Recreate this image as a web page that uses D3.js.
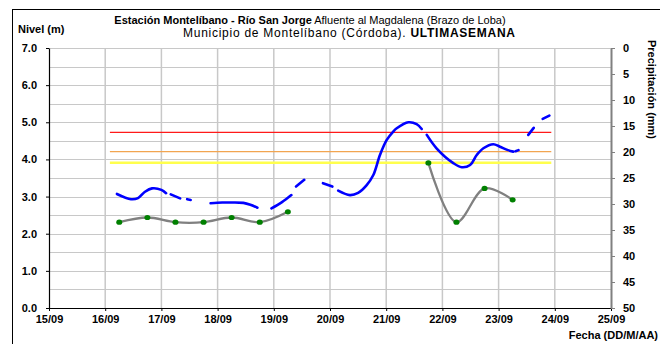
<!DOCTYPE html>
<html><head><meta charset="utf-8">
<script src="https://cdn.jsdelivr.net/npm/d3@7"></script>
<style>
html,body{margin:0;padding:0;background:#fff;}
svg text{font-family:"Liberation Sans",Arial,sans-serif;}
</style></head>
<body>
<svg id="c" width="660" height="344"></svg>
<script>
// ---- data ----
const dayTicks = ["15/09","16/09","17/09","18/09","19/09","20/09","21/09","22/09","23/09","24/09","25/09"];
const levelTicks = [0,1,2,3,4,5,6,7];
const precipTicks = [0,5,10,15,20,25,30,35,40,45,50];

const levelTimes = [
 "16/09 05:00","16/09 11:00","16/09 14:00","16/09 17:00","16/09 20:00","17/09 00:00","17/09 02:00", null,
 "17/09 04:00","17/09 08:00", null,
 "17/09 11:00","17/09 12:30", null,
 "17/09 21:00","18/09 02:00","18/09 06:00","18/09 11:00","18/09 14:00","18/09 17:00", null,
 "18/09 23:00","19/09 03:30","19/09 07:30", null,
 "19/09 09:30","19/09 13:00", null,
 "19/09 21:00","20/09 01:00", null,
 "20/09 03:30","20/09 08:30","20/09 12:00","20/09 15:40","20/09 18:30","20/09 21:20","21/09 00:10","21/09 03:00","21/09 04:30","21/09 09:30","21/09 13:00","21/09 15:10", null,
 "21/09 17:20","21/09 21:30","22/09 04:40","22/09 08:15","22/09 11:50","22/09 14:40","22/09 17:30","22/09 21:45","23/09 00:35","23/09 04:00","23/09 06:15", null,
 "23/09 07:15","23/09 08:30", null,
 "23/09 12:40","23/09 15:00", null,
 "23/09 18:50","23/09 21:40"
];
const levelValues = [
 3.07,2.93,2.96,3.13,3.22,3.18,3.09, null,
 3.06,2.95, null,
 2.93,2.91, null,
 2.82,2.84,2.84,2.83,2.78,2.70, null,
 2.68,2.85,3.04, null,
 3.27,3.45, null,
 3.36,3.27, null,
 3.16,3.04,3.10,3.31,3.58,4.12,4.52,4.75,4.84,5.00,4.95,4.82, null,
 4.66,4.30,3.90,3.79,3.85,4.12,4.30,4.41,4.34,4.25,4.21, null,
 4.22,4.25, null,
 4.66,4.85, null,
 5.09,5.18
];

const precipTimes = ["16/09 06:00","16/09 18:00","17/09 06:00","17/09 18:00","18/09 06:00","18/09 18:00","19/09 06:00", null,
 "21/09 18:00","22/09 06:00","22/09 18:00","23/09 06:00"];
const precipValues = [33.5,32.6,33.5,33.5,32.6,33.5,31.5, null, 22.1,33.5,27.0,29.2];

const thresholdNames = ["roja","naranja","amarilla"];
const thresholdValues = [4.73,4.21,3.91];
const thresholdColors = ["#ff1a1a","#f2a550","#ffff4d"];
const thresholdStart = "16/09 02:00";
const thresholdEnd = "23/09 22:30";

// ---- chart ----
const parse = d3.timeParse("%d/%m %H:%M");
const svg = d3.select("#c");
const L = 49, R = 611, T = 48, B = 308;

const x = d3.scaleTime().domain([parse("15/09 00:00"), parse("25/09 00:00")]).range([L, R]);
const y = d3.scaleLinear().domain([0,7]).range([B, T]);
const y2 = d3.scaleLinear().domain([0,50]).range([T, B]);

// frame
svg.append("rect").attr("x",12.5).attr("y",9.5).attr("width",700).attr("height",400)
  .attr("fill","none").attr("stroke","#000").attr("stroke-width",1);

// grid
const hg = d3.range(0.5, 7.01, 0.5);
svg.append("g").selectAll("line").data(hg).join("line")
  .attr("x1",L).attr("x2",R).attr("y1",d=>Math.round(y(d))+0.5).attr("y2",d=>Math.round(y(d))+0.5)
  .attr("stroke","#c8c8c8").attr("stroke-width",1.2);
const days = dayTicks.map(d => parse(d + " 00:00"));
svg.append("g").selectAll("line").data(days.slice(1,-1)).join("line")
  .attr("x1",d=>x(d)).attr("x2",d=>x(d)).attr("y1",T).attr("y2",B)
  .attr("stroke","#c8c8c8").attr("stroke-width",1.5);

// thresholds
svg.append("g").selectAll("line").data(thresholdValues).join("line")
  .attr("x1",x(parse(thresholdStart))).attr("x2",x(parse(thresholdEnd)))
  .attr("y1",d=>y(d)).attr("y2",d=>y(d))
  .attr("stroke",(d,i)=>thresholdColors[i]).attr("stroke-width",(d,i)=>i===2?2.5:1.3);

// axes
const fontAxis = g => g.selectAll("text").attr("font-size","11px").attr("font-weight","bold").attr("fill","#000")
  .attr("font-family","'Liberation Sans',Arial,sans-serif");

const xAxis = svg.append("g").attr("transform",`translate(0,${B})`)
  .call(d3.axisBottom(x).tickValues(days).tickFormat(d3.timeFormat("%d/%m")).tickSize(3).tickSizeOuter(0))
  .call(fontAxis);
xAxis.select(".domain").attr("stroke","#000").attr("stroke-width",1.2);
xAxis.selectAll(".tick line").attr("stroke","#000");
xAxis.selectAll("text").attr("dy","0").attr("y",15);

const yAxis = svg.append("g").attr("transform",`translate(${L},0)`)
  .call(d3.axisLeft(y).tickValues(levelTicks).tickFormat(d3.format(".1f")).tickSize(3).tickSizeOuter(0))
  .call(fontAxis);
yAxis.select(".domain").attr("stroke","#000").attr("stroke-width",1.2);
yAxis.selectAll(".tick line").attr("stroke","#000");
yAxis.selectAll("text").attr("x",-12);

const y2Axis = svg.append("g").attr("transform",`translate(${R},0)`)
  .call(d3.axisRight(y2).tickValues(precipTicks).tickSize(4).tickSizeOuter(0))
  .call(fontAxis);
y2Axis.select(".domain").attr("stroke","#808080").attr("stroke-width",2);
y2Axis.selectAll(".tick line").attr("stroke","#808080");
y2Axis.selectAll("text").attr("x",12);

// level line
const levelData = levelTimes.map((t,i)=>({t: t ? parse(t) : null, v: levelValues[i]}));
const lineL = d3.line().defined(d=>d.t && d.v!=null).x(d=>x(d.t)).y(d=>y(d.v)).curve(d3.curveCatmullRom);
svg.append("path").datum(levelData).attr("d",lineL)
  .attr("fill","none").attr("stroke","#0000ff").attr("stroke-width",2.6).attr("stroke-linecap","round");

// precipitation line
const precipData = precipTimes.map((t,i)=>({t: t ? parse(t) : null, v: precipValues[i]}));
const lineP = d3.line().defined(d=>d.t && d.v!=null).x(d=>x(d.t)).y(d=>y2(d.v)).curve(d3.curveCatmullRom);
svg.append("path").datum(precipData).attr("d",lineP)
  .attr("fill","none").attr("stroke","#808080").attr("stroke-width",2.3);
svg.append("g").selectAll("ellipse").data(precipData.filter(d=>d.t)).join("ellipse")
  .attr("cx",d=>x(d.t)).attr("cy",d=>y2(d.v)).attr("rx",3).attr("ry",2.6).attr("fill","#008000");

// texts
const t1 = svg.append("text").attr("x",310).attr("y",24).attr("text-anchor","middle").attr("font-size","11px");
t1.append("tspan").attr("font-weight","bold").text("Estación Montelíbano  - Río San Jorge");
t1.append("tspan").text(" Afluente al Magdalena (Brazo de Loba)");
const t2 = svg.append("text").attr("x",183).attr("y",36.5).attr("font-size","12px")
  .attr("textLength",332).attr("lengthAdjust","spacing");
t2.append("tspan").text("Municipio de Montelíbano (Córdoba). ");
t2.append("tspan").attr("font-weight","bold").text("ULTIMASEMANA");

svg.append("text").attr("x",18).attr("y",33).attr("font-size","11px").attr("font-weight","bold").text("Nivel (m)");
svg.append("text").attr("x",658).attr("y",339).attr("text-anchor","end").attr("font-size","11px").attr("font-weight","bold").text("Fecha (DD/M/AA)");
svg.append("text").attr("transform","translate(648,40) rotate(90)").attr("font-size","11px").attr("font-weight","bold").text("Precipitación (mm)");
</script>
</body></html>
